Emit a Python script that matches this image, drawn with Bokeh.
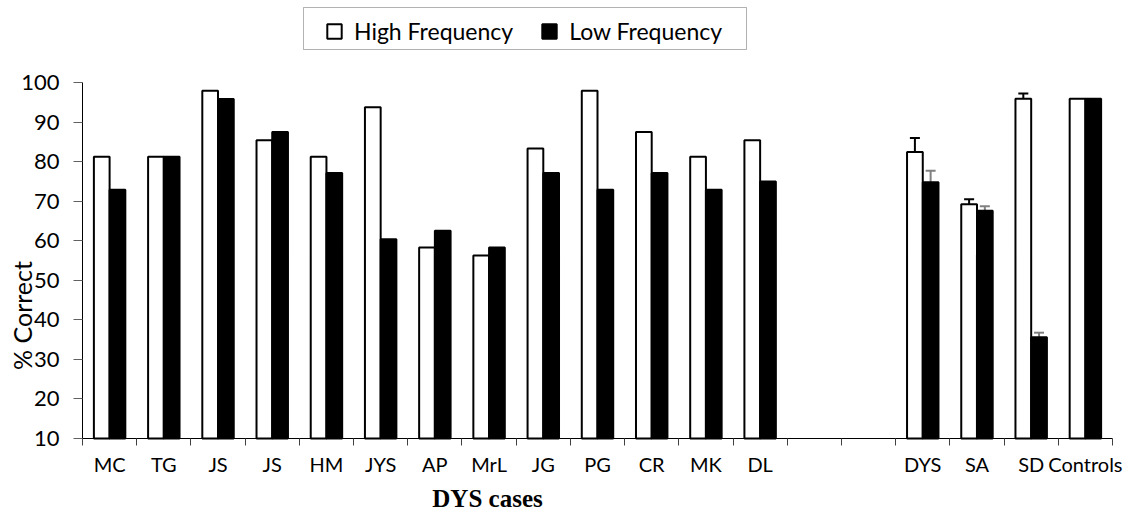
import math
from bokeh.plotting import figure
from bokeh.models import (ColumnDataSource, Range1d, FixedTicker, Legend, LegendItem,
                          Whisker, TeeHead, Label, BoxAnnotation, LinearAxis)
from bokeh.embed import file_html
from bokeh.resources import INLINE

# ---- data ----
cases = ["MC", "TG", "JS", "JS", "HM", "JYS", "AP", "MrL", "JG", "PG", "CR", "MK", "DL",
         "", "", "DYS", "SA", "SD", "Controls"]
high_freq = [81.25, 81.25, 97.9, 85.4, 81.25, 93.75, 58.3, 56.25, 83.3, 97.9, 87.5, 81.25, 85.4,
             None, None, 82.4, 69.2, 95.9, 95.9]
low_freq = [72.9, 81.25, 95.8, 87.5, 77.1, 60.4, 62.5, 58.3, 77.1, 72.9, 77.1, 72.9, 75.0,
            None, None, 74.8, 67.6, 35.6, 95.9]
err_groups = ["DYS", "SA", "SD"]
high_err = [3.6, 1.3, 1.3]
low_err = [2.9, 1.1, 1.15]
y_ticks = [10, 20, 30, 40, 50, 60, 70, 80, 90, 100]
Y_MIN, Y_MAX = 10, 100

# ---- layout geometry (pixels) ----
W, H = 1131, 514
FL, FR, FT, FB = 82, 1112, 82, 438   # plotting area inside the canvas

n = len(cases)
xpx = (FR - FL) / n
ypx = (FB - FT) / (Y_MAX - Y_MIN)
x_range = Range1d(0 - FL / xpx, n + (W - FR) / xpx)
y_range = Range1d(Y_MIN - (H - FB) / ypx, Y_MAX + FT / ypx)

# ---- derived ----
BW = 0.29
idx = [i for i, c in enumerate(cases) if c]
centers = [i + 0.5 for i in range(n)]
hi_src = ColumnDataSource(dict(x=[i + 0.5 - BW / 2 for i in idx], top=[high_freq[i] for i in idx]))
lo_src = ColumnDataSource(dict(x=[i + 0.5 + BW / 2 for i in idx], top=[low_freq[i] for i in idx]))

eidx = [n - 1 - cases[::-1].index(g) for g in err_groups]
hi_err_src = ColumnDataSource(dict(
    x=[i + 0.5 - BW / 2 for i in eidx],
    upper=[high_freq[i] + e for i, e in zip(eidx, high_err)],
    lower=[high_freq[i] - e for i, e in zip(eidx, high_err)]))
lo_err_src = ColumnDataSource(dict(
    x=[i + 0.5 + BW / 2 for i in eidx],
    upper=[low_freq[i] + e for i, e in zip(eidx, low_err)],
    lower=[low_freq[i] - e for i, e in zip(eidx, low_err)]))

p = figure(width=W, height=H, output_backend="svg", toolbar_location=None,
           x_range=x_range, y_range=y_range,
           x_axis_location=None, y_axis_location=None,
           min_border_left=0, min_border_right=0, min_border_top=0, min_border_bottom=0)
p.outline_line_color = None
p.xgrid.visible = False
p.ygrid.visible = False
p.background_fill_color = "white"
p.border_fill_color = "white"

r_hi = p.vbar(x="x", top="top", bottom=Y_MIN, width=BW, source=hi_src,
              fill_color="white", line_color="black", line_width=2)
r_lo = p.vbar(x="x", top="top", bottom=Y_MIN, width=BW, source=lo_src,
              fill_color="black", line_color="black", line_width=2)

p.add_layout(Whisker(base="x", upper="upper", lower="lower", source=hi_err_src,
                     line_color="black", line_width=2,
                     upper_head=TeeHead(size=10, line_color="black", line_width=2),
                     lower_head=TeeHead(size=10, line_color="black", line_width=2)))
p.add_layout(Whisker(base="x", upper="upper", lower="lower", source=lo_err_src,
                     line_color="#808080", line_width=2,
                     upper_head=TeeHead(size=10, line_color="#808080", line_width=2),
                     lower_head=TeeHead(size=10, line_color="#808080", line_width=2)))

# x axis
xa = LinearAxis(fixed_location=Y_MIN, bounds=(0, n))
xa.ticker = FixedTicker(ticks=centers, minor_ticks=list(range(n + 1)))
xa.major_label_overrides = {c: lab for c, lab in zip(centers, cases)}
xa.major_tick_out = 0
xa.major_tick_in = 0
xa.minor_tick_out = 7
xa.minor_tick_in = 0
xa.minor_tick_line_color = "#404040"
xa.axis_line_color = "black"
xa.major_label_text_font = "Lato"
xa.major_label_text_font_size = "20px"
xa.major_label_text_color = "black"
xa.major_label_standoff = 6
p.add_layout(xa, "below")

# y axis
ya = LinearAxis(fixed_location=0, bounds=(Y_MIN, Y_MAX))
ya.ticker = FixedTicker(ticks=y_ticks)
ya.minor_tick_line_color = None
ya.major_tick_out = 9
ya.major_tick_in = 0
ya.major_tick_line_color = "#606060"
ya.axis_line_color = "black"
ya.major_label_text_font = "Lato"
ya.major_label_text_font_size = "22px"
ya.major_label_text_color = "black"
ya.major_label_standoff = 14
p.add_layout(ya, "left")

# labels
p.add_layout(Label(x=21, y=H - 315, x_units="screen", y_units="screen", text="% Correct",
                   angle=math.pi / 2, text_align="center", text_baseline="middle",
                   text_font="Lato", text_font_size="25px", text_color="black"))
p.add_layout(Label(x=487, y=H - 498, x_units="screen", y_units="screen", text="DYS cases",
                   text_align="center", text_baseline="middle",
                   text_font="Liberation Serif", text_font_style="bold",
                   text_font_size="25px", text_color="black"))

# legend
legend = Legend(items=[LegendItem(label="High Frequency", renderers=[r_hi]),
                       LegendItem(label="Low Frequency", renderers=[r_lo])],
                location=(325, H - 45), orientation="horizontal",
                border_line_color=None, background_fill_alpha=0,
                padding=0, margin=0, spacing=27, label_standoff=11,
                glyph_width=18, glyph_height=18,
                label_text_font="Lato", label_text_font_size="23px", label_text_color="black")
p.add_layout(legend, "center")
p.add_layout(BoxAnnotation(left=303, right=746, top=7, bottom=49,
                           left_units="canvas", right_units="canvas",
                           top_units="canvas", bottom_units="canvas",
                           fill_alpha=0, line_color="black", line_width=1))

open("out.html", "w").write(file_html(p, INLINE))
